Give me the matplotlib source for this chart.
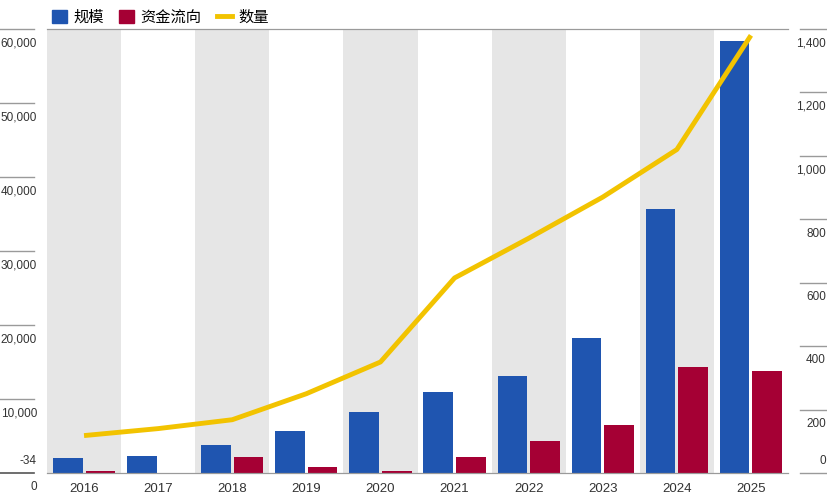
import matplotlib.pyplot as plt
from matplotlib.patches import Patch
from matplotlib.lines import Line2D

# data
years = ['2016', '2017', '2018', '2019', '2020', '2021', '2022', '2023', '2024', '2025']
size = [2000, 2300, 3800, 5700, 8200, 10900, 13100, 18200, 35700, 58400]   # 规模
flows = [300, -34, 2200, 800, 300, 2200, 4300, 6500, 14300, 13800]        # 资金流向
count = [118, 140, 168, 250, 350, 615, 740, 870, 1020, 1380]              # 数量
left_ticks = [10000, 20000, 30000, 40000, 50000, 60000]
right_ticks = [200, 400, 600, 800, 1000, 1200, 1400]

blue = '#1F55B0'
red = '#A50034'
yellow = '#F2C300'
band = '#E6E6E6'
rule = '#9A9A9A'
num_font = ['Liberation Sans', 'DejaVu Sans']
cjk_font = ['Noto Sans CJK SC', 'DejaVu Sans']
nfs = 8.5

fig = plt.figure(figsize=(8.28, 4.98), dpi=100)
W, H = 828, 498
x0, x1, ytop, ybot = 47, 788, 29, 473
ax = fig.add_axes([x0 / W, (H - ybot) / H, (x1 - x0) / W, (ybot - ytop) / H])
ax2 = ax.twinx()

xs = list(range(len(years)))
for i in xs:
    if i % 2 == 0:
        ax.axvspan(i - 0.5, i + 0.5, color=band, lw=0, zorder=0)

ax.bar([x - 0.22 for x in xs], size, width=0.4, color=blue, zorder=2)
ax.bar([x + 0.22 for x in xs], flows, width=0.4, color=red, zorder=2)
ax.set_xlim(-0.5, len(years) - 0.5)
ax.set_ylim(0, 60000)

ax2.plot(xs, count, color=yellow, lw=3.5, solid_capstyle='butt', zorder=3)
ax2.set_ylim(0, 1400)

for a in (ax, ax2):
    for s in ('left', 'right'):
        a.spines[s].set_visible(False)
    a.spines['top'].set_color(rule)
    a.spines['bottom'].set_color(rule)
    a.set_yticks([])
    a.tick_params(length=0)

ax.set_xticks(xs)
ax.set_xticklabels(years, family=num_font, fontsize=9.5, color='#333333')
ax.tick_params(axis='x', pad=7)

# left value rules with labels under them
tl = ax.get_yaxis_transform()
lx0, lx1, lxl = -x0 / (x1 - x0), -13 / (x1 - x0), -10 / (x1 - x0)
for v in left_ticks:
    ax.plot([lx0, lx1], [v, v], transform=tl, clip_on=False, color=rule, lw=1)
    ax.annotate(f'{v:,}', (lxl, v), xycoords=tl, xytext=(0, -6), textcoords='offset points',
                ha='right', va='top', family=num_font, fontsize=nfs, color='#333333')
ax.plot([lx0, lx1], [0, 0], transform=tl, clip_on=False, color='#555555', lw=1.2)
ax.annotate('0', (lxl, 0), xycoords=tl, xytext=(0, -6), textcoords='offset points',
            ha='right', va='top', family=num_font, fontsize=nfs, color='#333333')
ax.annotate('-34', (lxl, 0), xycoords=tl, xytext=(0, 4), textcoords='offset points',
            ha='right', va='bottom', family=num_font, fontsize=nfs, color='#333333')

# right value rules with labels under them
tr = ax2.get_yaxis_transform()
rx0, rx1, rxl = (800 - x0) / (x1 - x0), (828 - x0) / (x1 - x0), (826 - x0) / (x1 - x0)
for v in right_ticks:
    ax2.plot([rx0, rx1], [v, v], transform=tr, clip_on=False, color=rule, lw=1)
    ax2.annotate(f'{v:,}', (rxl, v), xycoords=tr, xytext=(0, -6), textcoords='offset points',
                 ha='right', va='top', family=num_font, fontsize=nfs, color='#333333')
ax2.plot([rx0, rx1], [0, 0], transform=tr, clip_on=False, color=rule, lw=1)
ax2.annotate('0', (rxl, 0), xycoords=tr, xytext=(0, 4), textcoords='offset points',
             ha='right', va='bottom', family=num_font, fontsize=nfs, color='#333333')

handles = [Patch(color=blue, label='规模'), Patch(color=red, label='资金流向'),
           Line2D([], [], color=yellow, lw=3.5, label='数量')]
fig.legend(handles=handles, loc='upper left', bbox_to_anchor=(38 / W, 1.01), ncol=3,
           frameon=False, prop={'family': cjk_font, 'size': 11}, handlelength=1.0,
           handleheight=1.0, handletextpad=0.4, columnspacing=1.0)

fig.savefig('out.png', dpi=100, facecolor='white')
